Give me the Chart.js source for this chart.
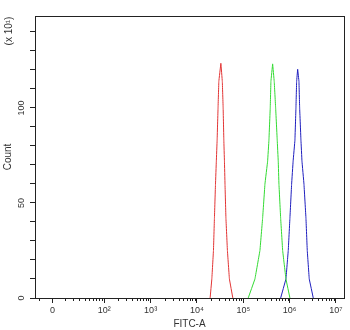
<!DOCTYPE html>
<html>
<head>
<meta charset="utf-8">
<script src="https://cdn.jsdelivr.net/npm/chart.js@4.4.1/dist/chart.umd.min.js"></script>
<style>
  html, body { margin: 0; padding: 0; background: #ffffff; }
  #wrap { width: 350px; height: 330px; }
</style>
</head>
<body>
<div id="wrap"><canvas id="c" width="350" height="330"></canvas></div>
<script>
// X values are in display (log10 FITC-A) units; Y values are Count (x10)
const redX   = [4.284, 4.321, 4.356, 4.377, 4.400, 4.418, 4.435, 4.455, 4.472, 4.516, 4.547, 4.565, 4.580, 4.593, 4.605, 4.625, 4.657, 4.700, 4.774];
const redY   = [0, 10, 25, 42, 60, 72, 83, 100, 114, 123.5, 114, 100, 83, 72, 60, 42, 25, 10, 0];
const greenX = [5.106, 5.251, 5.359, 5.417, 5.467, 5.525, 5.553, 5.581, 5.596, 5.633, 5.667, 5.698, 5.732, 5.754, 5.769, 5.806, 5.849, 5.920, 6.006];
const greenY = [0, 10, 25, 42, 60, 72, 83, 100, 114, 123.2, 114, 100, 83, 72, 60, 42, 25, 10, 0];
const blueX  = [5.806, 5.920, 5.970, 6.006, 6.043, 6.075, 6.114, 6.136, 6.151, 6.173, 6.201, 6.216, 6.244, 6.266, 6.309, 6.352, 6.380, 6.423, 6.510];
const blueY  = [0, 10, 25, 42, 60, 72, 83, 100, 114, 120.4, 114, 100, 83, 72, 60, 42, 25, 10, 0];

const xTickValues = [0.881, 2, 3, 4, 5, 6, 7];
const xTickLabels = ['0', '10\u00B2', '10\u00B3', '10\u2074', '10\u2075', '10\u2076', '10\u2077'];
const xMinorLow   = [0.592, 1.153, 1.320, 1.464, 1.585, 1.672, 1.752, 1.823, 1.896, 1.946];
const yTickValues = [0, 10, 20, 30, 40, 50, 60, 70, 80, 90, 100, 110, 120, 130, 140];
const yTickLabels = {0: '0', 50: '50', 100: '100'};

const xMin = 0.505, xMax = 7.173, yMin = 0, yMax = 148.4;

function pts(xs, ys) { return xs.map((x, i) => ({x: x, y: ys[i]})); }

const minorTicks = xMinorLow.slice();
for (let k = 2; k < 7; k++) {
  for (let m = 2; m <= 9; m++) minorTicks.push(k + Math.log10(m));
}

const FONT = 'Liberation Sans, Arial, sans-serif';
const TXT = '#333333';
const AX = '#222222';

const boxPlugin = {
  id: 'box',
  afterDraw(chart) {
    const {ctx, chartArea: a} = chart;
    const xs = chart.scales.x;
    ctx.save();
    ctx.strokeStyle = AX;
    ctx.lineWidth = 1;
    ctx.strokeRect(Math.round(a.left) + 0.5, Math.round(a.top) + 0.5,
                   Math.round(a.right - a.left), Math.round(a.bottom - a.top));
    ctx.beginPath();
    minorTicks.forEach(v => {
      const px = Math.round(xs.getPixelForValue(v)) + 0.5;
      ctx.moveTo(px, a.bottom);
      ctx.lineTo(px, a.bottom + 3);
    });
    ctx.stroke();
    ctx.fillStyle = TXT;
    ctx.font = '10px ' + FONT;
    ctx.translate(9, a.top + 15);
    ctx.rotate(-Math.PI / 2);
    ctx.textAlign = 'center';
    ctx.textBaseline = 'middle';
    ctx.fillText('(x 10\u00B9)', 0, 0);
    ctx.restore();
  }
};

const lineStyle = {borderWidth: 1, pointRadius: 0, tension: 0.01, fill: false};

new Chart(document.getElementById('c'), {
  type: 'line',
  data: {
    datasets: [
      Object.assign({data: pts(redX, redY), borderColor: 'rgb(226,52,52)'}, lineStyle),
      Object.assign({data: pts(greenX, greenY), borderColor: 'rgb(50,218,50)'}, lineStyle),
      Object.assign({data: pts(blueX, blueY), borderColor: 'rgb(30,30,190)'}, lineStyle)
    ]
  },
  options: {
    responsive: false,
    animation: false,
    devicePixelRatio: 1,
    layout: {padding: {top: 16, right: 6, left: 0, bottom: 0}},
    plugins: {legend: {display: false}, tooltip: {enabled: false}},
    scales: {
      x: {
        type: 'linear', min: xMin, max: xMax,
        afterBuildTicks: s => { s.ticks = xTickValues.map(v => ({value: v})); },
        afterFit: s => { s.height = 32; },
        grid: {drawOnChartArea: false, drawTicks: true, tickLength: 5, color: AX},
        border: {display: true, color: AX, width: 1},
        ticks: {
          autoSkip: false, maxRotation: 0, minRotation: 0, padding: 2,
          color: TXT, font: {family: FONT, size: 9},
          callback: (v, i) => xTickLabels[i]
        },
        title: {display: true, text: 'FITC-A', color: TXT, font: {family: FONT, size: 10}, padding: {top: 0, bottom: 0}}
      },
      y: {
        type: 'linear', min: yMin, max: yMax,
        afterBuildTicks: s => { s.ticks = yTickValues.map(v => ({value: v})); },
        afterFit: s => { s.width = 35; },
        grid: {drawOnChartArea: false, drawTicks: true, tickLength: 5, color: AX},
        border: {display: true, color: AX, width: 1},
        ticks: {
          autoSkip: false, minRotation: 90, maxRotation: 90, padding: 1, crossAlign: 'center',
          color: TXT, font: {family: FONT, size: 9},
          callback: v => (yTickLabels[v] !== undefined ? yTickLabels[v] : '')
        },
        title: {display: true, text: 'Count', color: TXT, font: {family: FONT, size: 10}, padding: {top: 2, bottom: 0}}
      }
    }
  },
  plugins: [boxPlugin]
});
</script>
</body>
</html>
